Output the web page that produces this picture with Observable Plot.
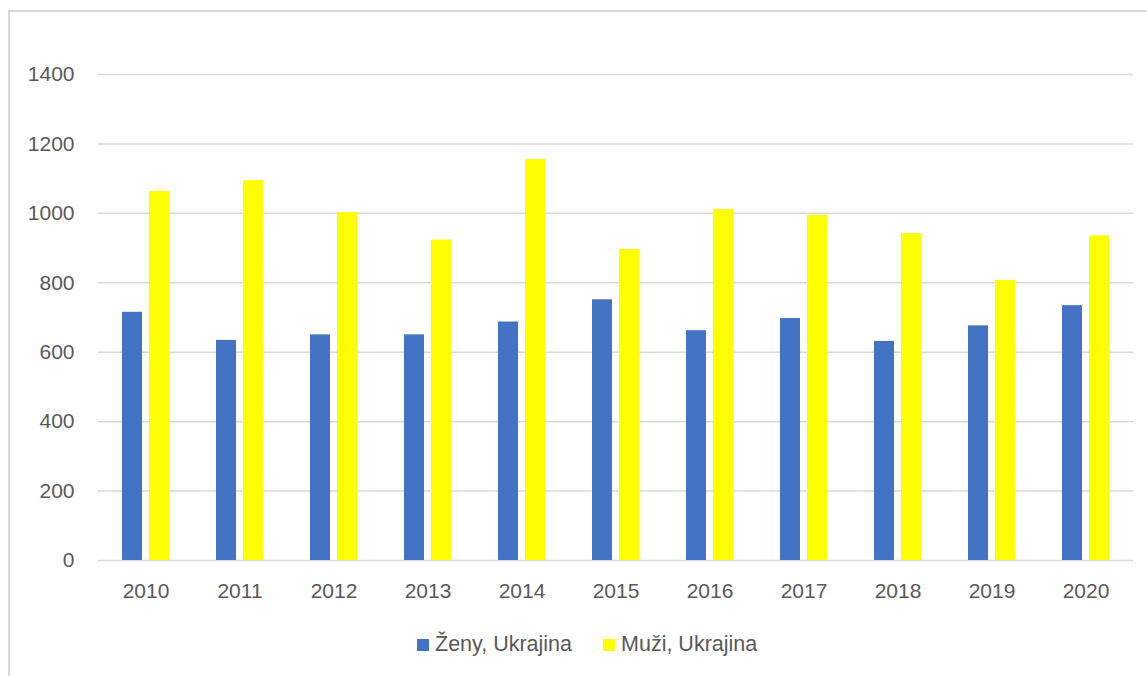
<!DOCTYPE html>
<html>
<head>
<meta charset="utf-8">
<script src="https://cdn.jsdelivr.net/npm/d3@7"></script>
<script src="https://cdn.jsdelivr.net/npm/@observablehq/plot@0.6"></script>
<style>
  html, body { margin: 0; padding: 0; background: #fff; overflow: hidden; }
  #frame { position: absolute; left: 8px; top: 10px; width: 1160px; height: 720px; border: 2px solid #d9d9d9; box-sizing: border-box; }
  #chart { position: absolute; left: 0; top: 0; }
  #legend { position: absolute; left: 417px; top: 632px; font-family: "Liberation Sans", Arial, sans-serif; font-size: 21.5px; color: #595959; display: flex; align-items: center; white-space: nowrap; }
  .item { display: flex; align-items: center; margin-right: 31px; }
  .sw { width: 12px; height: 12px; margin-right: 6px; display: inline-block; }
</style>
</head>
<body>
<div id="frame"></div>
<div id="chart"></div>
<div id="legend"></div>
<script>
const years = ["2010","2011","2012","2013","2014","2015","2016","2017","2018","2019","2020"];
const zeny = [715, 634, 650, 650, 687, 751, 662, 697, 631, 676, 734];
const muzi = [1063, 1094, 1002, 923, 1155, 896, 1011, 994, 942, 807, 935];
const seriesNames = ["Ženy, Ukrajina", "Muži, Ukrajina"];
const seriesColors = ["#4472c4", "#ffff00"];
const yTicks = [0, 200, 400, 600, 800, 1000, 1200, 1400];

const rowsZ = years.map((y, i) => ({year: y, value: zeny[i], series: seriesNames[0]}));
const rowsM = years.map((y, i) => ({year: y, value: muzi[i], series: seriesNames[1]}));

const chart = Plot.plot({
  width: 1147,
  height: 620,
  marginLeft: 98,
  marginRight: 14,
  marginTop: 74,
  marginBottom: 60,
  style: {fontFamily: "Liberation Sans, Arial, sans-serif", fontSize: "21px", color: "#595959", background: "transparent", overflow: "visible"},
  x: {domain: years, paddingInner: 0.5, paddingOuter: 0.25, label: null, tickSize: 0, tickPadding: 23},
  y: {domain: [0, 1400], ticks: yTicks, label: null, tickSize: 0, tickPadding: 24, tickFormat: d => String(d)},
  color: {domain: seriesNames, range: seriesColors},
  marks: [
    Plot.ruleY(yTicks, {stroke: "#d9d9d9", strokeWidth: 1.5}),
    Plot.barY(rowsZ, {x: "year", y: "value", fill: "series", insetRight: 27}),
    Plot.barY(rowsM, {x: "year", y: "value", fill: "series", insetLeft: 27})
  ]
});
document.getElementById("chart").appendChild(chart);

const legend = document.getElementById("legend");
seriesNames.forEach((name, i) => {
  const item = document.createElement("span");
  item.className = "item";
  const sw = document.createElement("span");
  sw.className = "sw";
  sw.style.background = seriesColors[i];
  item.appendChild(sw);
  item.appendChild(document.createTextNode(name));
  legend.appendChild(item);
});
</script>
</body>
</html>
